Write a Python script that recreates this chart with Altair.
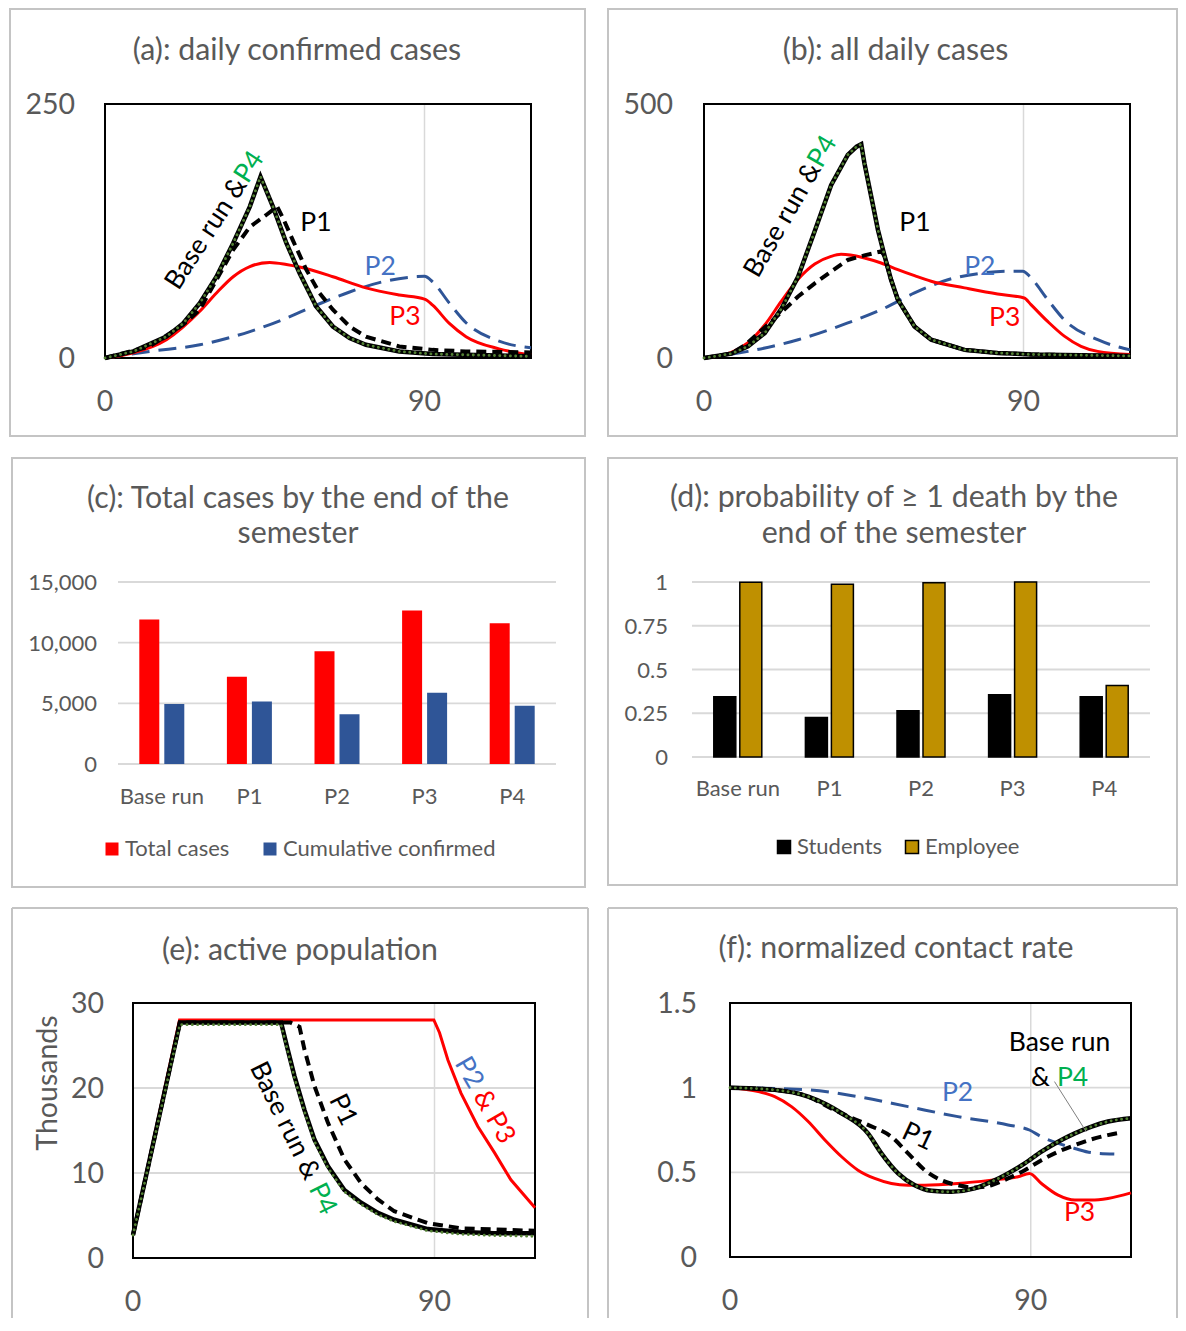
import altair as alt
import pandas as pd

FONT = "Lato"
TXT = "#595959"
BOXC = "#c4c4c4"
GRIDC = "#d9d9d9"
NAVY = "#2f5597"
LBLUE = "#4472c4"
RED = "#ff0000"
DOTG = "#548235"
LGREEN = "#00b050"
GOLD = "#bf9000"

# ================= DATA =================
# (a) daily confirmed cases
A_BASE_DAY = [0, 8, 17.3, 22, 26.7, 31.4, 36.1, 40.8, 43.8, 47.3, 51.1, 54.8, 59.5, 64.2, 68.9, 73.5, 82.9, 92.3, 120]
A_BASE_VAL = [0, 6.5, 21, 34, 54, 80, 113, 149, 178.5, 149, 113, 83.6, 50.7, 31, 19.6, 13, 6.5, 3.9, 1.6]
A_P1_DAY = [0, 12.6, 22, 26.7, 31.4, 36.1, 40.8, 45.5, 48.5, 50.1, 52.9, 56.7, 60.4, 64.2, 68.9, 73.5, 82.9, 92.3, 101.6, 120]
A_P1_VAL = [0, 11.4, 32.7, 47.5, 77, 106.5, 129, 141, 149, 138, 116, 87, 64, 47.5, 31, 21, 11.4, 8, 6.5, 5.5]
A_P2_DAY = [0, 12.6, 26.7, 40.8, 50, 59.5, 68.9, 78.2, 87.6, 90, 92.3, 97, 101.7, 111, 120]
A_P2_VAL = [0, 6.5, 13, 26, 37.7, 52, 65, 75, 80, 80.5, 75, 54, 34.7, 16.6, 10]
A_P3_DAY = [0, 8, 17.3, 26.7, 31.4, 36.1, 40.8, 46.4, 51.1, 54.8, 64.2, 73.5, 82.9, 90, 92.3, 97, 101.7, 111, 120]
A_P3_VAL = [0, 5, 18, 46, 64, 80, 90, 94, 92, 89.5, 80, 69, 62, 58, 52, 34, 21, 9, 3]
A_P4_DAY = A_BASE_DAY
A_P4_VAL = A_BASE_VAL

# (b) all daily cases
B_BASE_DAY = [0, 7.7, 12.4, 17.1, 21.8, 26.5, 31.2, 35.8, 40.5, 43.0, 44.3, 45.2, 47.1, 49, 50.9, 52.7, 54.6, 59.3, 64, 73.4, 82.7, 92.1, 120]
B_BASE_VAL = [0, 8.5, 23, 49, 97, 160, 250, 340, 400, 416, 421, 383, 318, 252, 200, 154, 115, 62, 36, 16, 10, 7, 4]
B_P1_DAY = [0, 7.7, 11.5, 17.1, 21.8, 26.5, 31.2, 35.8, 40.5, 45.2, 50.0, 50.9, 52.7, 54.6, 59.3, 64, 73.4, 82.7, 92.1, 120]
B_P1_VAL = [0, 9, 25, 60, 90, 121, 147, 170, 193, 202, 210, 200, 154, 115, 62, 36, 16, 10, 7, 4]
B_P2_DAY = [0, 12.4, 26.5, 40.5, 49.9, 59.3, 68.7, 78.1, 85.6, 89.8, 92.1, 96.8, 101.5, 110.9, 120]
B_P2_VAL = [0, 13, 36, 69, 95, 128, 154, 167, 171, 171, 158, 115, 75, 36, 16]
B_P3_DAY = [0, 7.7, 12.4, 17.1, 21.8, 26.5, 31.2, 35.8, 38.6, 45.2, 49.9, 54.6, 59.3, 64, 73.4, 82.7, 90.2, 92.1, 96.8, 101.5, 106.2, 110.9, 120]
B_P3_VAL = [0, 11, 30, 65, 112, 155, 185, 200, 204, 197, 187, 174, 162, 151, 138, 126, 118, 105, 72, 43, 23, 13, 7]
B_P4_DAY = B_BASE_DAY
B_P4_VAL = B_BASE_VAL

# (c) total cases by the end of the semester
C_CATS = ["Base run", "P1", "P2", "P3", "P4"]
C_SERIES = ["Total cases", "Cumulative confirmed"]
C_TOTAL = [11900, 7200, 9300, 12650, 11600]
C_CONFIRMED = [4950, 5150, 4100, 5870, 4810]

# (d) probability of >= 1 death
D_CATS = ["Base run", "P1", "P2", "P3", "P4"]
D_SERIES = ["Students", "Employee"]
D_STUDENTS = [0.345, 0.226, 0.264, 0.356, 0.345]
D_EMPLOYEE = [0.999, 0.987, 0.996, 1.0, 0.408]

# (e) active population (thousands)
E_BASE_DAY = [0, 14, 44.2, 46.2, 48.2, 51.2, 54.2, 58.2, 63.1, 68.1, 73.1, 78, 88, 97.9, 107.8, 120]
E_BASE_VAL = [2.7, 27.7, 27.7, 24.5, 21.4, 17.4, 13.9, 10.8, 8.0, 6.5, 5.3, 4.5, 3.4, 3.06, 2.9, 2.9]
E_P4_DAY = E_BASE_DAY
E_P4_VAL = [2.7, 27.45, 27.45, 24.3, 21.2, 17.2, 13.7, 10.6, 7.8, 6.3, 5.1, 4.3, 3.2, 2.8, 2.65, 2.55]
E_P1_DAY = [0, 14, 47, 49.7, 51.2, 54.2, 58.2, 63.1, 68.1, 73.1, 78, 88, 97.9, 120]
E_P1_VAL = [2.7, 27.7, 27.7, 27.2, 24.5, 20.2, 15.9, 11.6, 8.8, 6.9, 5.5, 4.1, 3.5, 3.2]
E_P3_DAY = [0, 13.9, 89.8, 91.5, 94, 97.9, 102.9, 107.9, 112.8, 120]
E_P3_VAL = [2.7, 28.0, 28.0, 26.5, 23.3, 19.4, 15.5, 12.4, 9.2, 5.9]

# (f) normalized contact rate
F_BASE_DAY = [0, 13.4, 23.4, 33.4, 41.3, 45.3, 50.3, 55.3, 60.3, 66.2, 73.2, 78.2, 83.2, 88.2, 93.2, 98.2, 103.2, 108.2, 113.1, 120]
F_BASE_VAL = [1.0, 0.987, 0.947, 0.849, 0.73, 0.612, 0.494, 0.424, 0.391, 0.385, 0.405, 0.444, 0.494, 0.553, 0.622, 0.681, 0.73, 0.77, 0.80, 0.82]
F_P1_DAY = [0, 13.4, 23.4, 30, 34.4, 41.3, 48.3, 53.3, 58.3, 63.2, 68.2, 73.2, 78.2, 83.2, 88.2, 93.2, 98.2, 103.2, 108.2, 113.1, 117]
F_P1_VAL = [1.0, 0.987, 0.947, 0.88, 0.839, 0.78, 0.71, 0.612, 0.513, 0.454, 0.424, 0.41, 0.424, 0.464, 0.513, 0.572, 0.622, 0.661, 0.695, 0.72, 0.735]
F_P2_DAY = [0, 23.4, 38.3, 53.3, 68.2, 83.2, 89.6, 93.2, 98.2, 103.2, 108.2, 115]
F_P2_VAL = [1.0, 0.987, 0.947, 0.888, 0.829, 0.78, 0.75, 0.71, 0.671, 0.641, 0.616, 0.608]
F_P3_DAY = [0, 8.5, 13.4, 18.4, 23.4, 28.4, 33.4, 38.3, 43.3, 48.3, 53.3, 58.3, 68.2, 78.2, 86.2, 89.6, 93.2, 98.2, 103.2, 108.2, 113.1, 120]
F_P3_VAL = [1.0, 0.977, 0.947, 0.888, 0.80, 0.691, 0.592, 0.513, 0.464, 0.434, 0.424, 0.424, 0.434, 0.454, 0.474, 0.493, 0.434, 0.365, 0.336, 0.336, 0.346, 0.379]
F_P4_DAY = F_BASE_DAY
F_P4_VAL = F_BASE_VAL

# tick values / labels
A_YTICKS, A_YLABELS = [0, 250], ["0", "250"]
B_YTICKS, B_YLABELS = [0, 500], ["0", "500"]
C_YTICKS, C_YLABELS = [0, 5000, 10000, 15000], ["0", "5,000", "10,000", "15,000"]
D_YTICKS, D_YLABELS = [0, 0.25, 0.5, 0.75, 1], ["0", "0.25", "0.5", "0.75", "1"]
E_YTICKS, E_YLABELS = [0, 10, 20, 30], ["0", "10", "20", "30"]
F_YTICKS, F_YLABELS = [0, 0.5, 1, 1.5], ["0", "0.5", "1", "1.5"]
X_TICKS, X_LABELS = [0, 90], ["0", "90"]

# ================= LAYOUT (page pixels) =================
OFF = 8
W, H = 1170, 1310
RMAX = OFF + W - 1
PANEL = {
    "a": dict(x0=105, x1=531, yb=358, yt=104, ydom=[0, 250], box=(10, 9, 585, 436),
              title=[("(a): daily confirmed cases", 297, 49)], ylab_x=75, xlab_y=400),
    "b": dict(x0=704, x1=1130, yb=358, yt=104, ydom=[0, 500], box=(608, 9, RMAX, 436),
              title=[("(b): all daily cases", 895.5, 49)], ylab_x=673, xlab_y=400),
    "c": dict(x0=118, x1=556, yb=764, yt=582, ydom=[0, 15000], box=(12, 458, 585, 887),
              title=[("(c): Total cases by the end of the", 298, 497), ("semester", 298, 532)],
              ylab_x=97, xlab_y=796),
    "d": dict(x0=692, x1=1150, yb=757, yt=582, ydom=[0, 1], box=(608, 458, RMAX, 885),
              title=[("(d): probability of \u2265 1 death by the", 894, 496),
                     ("end of the semester", 894, 532)],
              ylab_x=668, xlab_y=788),
    "e": dict(x0=133, x1=535, yb=1258, yt=1003, ydom=[0, 30], box=(12, 908, 588, None),
              title=[("(e): active population", 300, 949)], ylab_x=104, xlab_y=1300),
    "f": dict(x0=730, x1=1131, yb=1257, yt=1003, ydom=[0, 1.5], box=(608, 908, RMAX, None),
              title=[("(f): normalized contact rate", 896, 947)], ylab_x=697, xlab_y=1299),
}

STYLE = {
    "P2": dict(color=NAVY, strokeWidth=3, strokeDash=[18, 9]),
    "P3": dict(color=RED, strokeWidth=3),
    "P1": dict(color="black", strokeWidth=4, strokeDash=[10, 6]),
    "Base run": dict(color="black", strokeWidth=4.5),
    "P4": dict(color=DOTG, strokeWidth=2.8, strokeDash=[0.1, 5.2], strokeCap="round"),
}
DRAW_ORDER = ["P2", "P3", "P1", "Base run", "P4"]

TITLE_SIZE = 30.3
BIG = 28.5
ANN = 26.5
SMALL = 22

ONE = pd.DataFrame({"k": [0]})
layers = []


def v(p):
    return p - OFF


def xscale(p):
    return alt.Scale(domain=[0, 120], range=[v(p["x0"]), v(p["x1"])], nice=False, zero=False)


def yscale(p):
    return alt.Scale(domain=p["ydom"], range=[v(p["yb"]), v(p["yt"])], nice=False, zero=False)


def bandscale(p, cats):
    return alt.Scale(domain=cats, range=[v(p["x0"]), v(p["x1"])], paddingInner=0.5,
                     paddingOuter=0.25)


def add_box(p):
    x1, y1, x2, y2 = p["box"]
    if y2 is not None:
        layers.append(alt.Chart(ONE).mark_rect(fill="transparent", stroke=BOXC, strokeWidth=2)
                      .encode(x=alt.value(v(x1)), x2=alt.value(v(x2)),
                              y=alt.value(v(y1)), y2=alt.value(v(y2))))
    else:
        yb = OFF + H
        for a, b, c, d in [(x1, x2, y1, y1), (x1, x1, y1, yb), (x2, x2, y1, yb)]:
            layers.append(alt.Chart(ONE).mark_rule(color=BOXC, strokeWidth=2)
                          .encode(x=alt.value(v(a)), x2=alt.value(v(b)),
                                  y=alt.value(v(c)), y2=alt.value(v(d))))
    for txt, cx, cy in p["title"]:
        layers.append(alt.Chart(ONE).mark_text(text=txt, font=FONT, fontSize=TITLE_SIZE,
                                               color=TXT, align="center", baseline="middle", dy=2)
                      .encode(x=alt.value(v(cx)), y=alt.value(v(cy))))


def add_ygrid_and_labels(p, ticks, labels, grid_ticks, size):
    df = pd.DataFrame({"t": ticks, "lab": labels})
    if grid_ticks:
        gdf = pd.DataFrame({"t": grid_ticks})
        layers.append(alt.Chart(gdf).mark_rule(color=GRIDC, strokeWidth=1.8)
                      .encode(y=alt.Y("t:Q", scale=yscale(p), axis=None),
                              x=alt.value(v(p["x0"])), x2=alt.value(v(p["x1"]))))
    layers.append(alt.Chart(df).mark_text(font=FONT, fontSize=size, color=TXT, align="right",
                                          baseline="middle", dy=1)
                  .encode(y=alt.Y("t:Q", scale=yscale(p), axis=None),
                          x=alt.value(v(p["ylab_x"])), text="lab:N"))


def line_panel(key, series, yticks, ylabels, ygrid, annots, linear=(), extra=()):
    p = PANEL[key]
    add_box(p)
    layers.append(alt.Chart(pd.DataFrame({"t": [90]})).mark_rule(color=GRIDC, strokeWidth=1.5)
                  .encode(x=alt.X("t:Q", scale=xscale(p), axis=None),
                          y=alt.value(v(p["yt"])), y2=alt.value(v(p["yb"]))))
    add_ygrid_and_labels(p, yticks, ylabels, ygrid, BIG)
    layers.append(alt.Chart(pd.DataFrame({"t": X_TICKS, "lab": X_LABELS}))
                  .mark_text(font=FONT, fontSize=BIG, color=TXT, align="center",
                             baseline="middle", dy=2)
                  .encode(x=alt.X("t:Q", scale=xscale(p), axis=None),
                          y=alt.value(v(p["xlab_y"])), text="lab:N"))
    layers.append(alt.Chart(ONE).mark_rect(fill="transparent", stroke="black", strokeWidth=2)
                  .encode(x=alt.value(v(p["x0"])), x2=alt.value(v(p["x1"])),
                          y=alt.value(v(p["yt"])), y2=alt.value(v(p["yb"]))))
    for name in DRAW_ORDER:
        if name not in series:
            continue
        days, vals = series[name]
        df = pd.DataFrame({"day": days, "val": vals})
        interp = "linear" if name in linear else "monotone"
        layers.append(alt.Chart(df).mark_line(interpolate=interp, **STYLE[name])
                      .encode(x=alt.X("day:Q", scale=xscale(p), axis=None),
                              y=alt.Y("val:Q", scale=yscale(p), axis=None)))
    for e in extra:
        e(p)
    for (txt, d, val, col, ang, align) in annots:
        adf = pd.DataFrame({"day": [d], "val": [val], "txt": [txt]})
        layers.append(alt.Chart(adf).mark_text(font=FONT, fontSize=ANN, color=col, angle=ang,
                                               align=align, baseline="middle")
                      .encode(x=alt.X("day:Q", scale=xscale(p), axis=None),
                              y=alt.Y("val:Q", scale=yscale(p), axis=None), text="txt:N"))


def bar_panel(key, cats, snames, svals, colors, yticks, ylabels, bw, off, legends, stroke=None):
    p = PANEL[key]
    add_box(p)
    add_ygrid_and_labels(p, yticks, ylabels, yticks, SMALL)
    layers.append(alt.Chart(pd.DataFrame({"cat": cats}))
                  .mark_text(font=FONT, fontSize=SMALL, color=TXT, align="center",
                             baseline="middle", dy=1)
                  .encode(x=alt.X("cat:N", scale=bandscale(p, cats), axis=None),
                          y=alt.value(v(p["xlab_y"])), text="cat:N"))
    for i, (s, vals, c, (lx, ly)) in enumerate(zip(snames, svals, colors, legends)):
        df = pd.DataFrame({"cat": cats, "val": vals, "series": [s] * len(cats)})
        mk = dict(width=bw, xOffset=(-off if i == 0 else off))
        lg = dict(orient="none", legendX=v(lx), legendY=v(ly), title=None, symbolType="square",
                  symbolSize=169, labelFont=FONT, labelFontSize=SMALL, labelColor=TXT,
                  labelOffset=2, padding=0, labelLimit=400)
        if stroke:
            mk.update(stroke=stroke, strokeWidth=1.5)
            lg.update(symbolStrokeColor=stroke, symbolStrokeWidth=1.5)
        else:
            lg.update(symbolStrokeWidth=0)
        layers.append(alt.Chart(df).mark_bar(**mk).encode(
            x=alt.X("cat:N", scale=bandscale(p, cats), axis=None),
            y=alt.Y("val:Q", scale=yscale(p), axis=None),
            color=alt.Color("series:N", scale=alt.Scale(domain=[s], range=[c]),
                            legend=alt.Legend(**lg))))


# ================= BUILD =================
line_panel("a",
           {"Base run": (A_BASE_DAY, A_BASE_VAL), "P4": (A_P4_DAY, A_P4_VAL),
            "P1": (A_P1_DAY, A_P1_VAL), "P2": (A_P2_DAY, A_P2_VAL), "P3": (A_P3_DAY, A_P3_VAL)},
           A_YTICKS, A_YLABELS, None,
           [("Base run &", 38.3, 175, "black", 303, "right"),
            ("P4", 38.3, 175, LGREEN, 303, "left"),
            ("P1", 59.4, 133, "black", 0, "center"),
            ("P2", 77.5, 89.6, LBLUE, 0, "center"),
            ("P3", 84.5, 40, RED, 0, "center")],
           linear=("Base run", "P4", "P1"))

line_panel("b",
           {"Base run": (B_BASE_DAY, B_BASE_VAL), "P4": (B_P4_DAY, B_P4_VAL),
            "P1": (B_P1_DAY, B_P1_VAL), "P2": (B_P2_DAY, B_P2_VAL), "P3": (B_P3_DAY, B_P3_VAL)},
           B_YTICKS, B_YLABELS, None,
           [("Base run &", 31.2, 380, "black", 300, "right"),
            ("P4", 31.2, 380, LGREEN, 300, "left"),
            ("P1", 59.4, 266, "black", 0, "center"),
            ("P2", 77.7, 180, LBLUE, 0, "center"),
            ("P3", 84.7, 79, RED, 0, "center")],
           linear=("Base run", "P4", "P1"))

bar_panel("c", C_CATS, C_SERIES, [C_TOTAL, C_CONFIRMED], [RED, NAVY],
          C_YTICKS, C_YLABELS, 20, 12.5, [(101, 838), (259, 838)])

bar_panel("d", D_CATS, D_SERIES, [D_STUDENTS, D_EMPLOYEE], ["#000000", GOLD],
          D_YTICKS, D_YLABELS, 22, 13, [(773, 836), (901, 836)], stroke="black")

line_panel("e",
           {"Base run": (E_BASE_DAY, E_BASE_VAL), "P4": (E_P4_DAY, E_P4_VAL),
            "P1": (E_P1_DAY, E_P1_VAL), "P3": (E_P3_DAY, E_P3_VAL)},
           E_YTICKS, E_YLABELS, [10, 20],
           [("Base run &", 53.6, 9.4, "black", 64, "right"),
            ("P4", 54.5, 8.6, LGREEN, 64, "left"),
            ("P1", 62.6, 17.4, "black", 64, "center"),
            ("P2", 102.6, 20.2, LBLUE, 60, "right"),
            ("& P3", 103.5, 19.5, RED, 60, "left")],
           linear=("Base run", "P4", "P1", "P3"))
layers.append(alt.Chart(ONE).mark_text(text="Thousands", font=FONT, fontSize=BIG, color=TXT,
                                       angle=270, align="center", baseline="middle")
              .encode(x=alt.value(v(48)), y=alt.value(v(1083))))


def leader(p):
    ldf = pd.DataFrame({"day": [97.1], "val": [1.036], "day2": [106.6], "val2": [0.74]})
    layers.append(alt.Chart(ldf).mark_rule(color="#808080", strokeWidth=1).encode(
        x=alt.X("day:Q", scale=xscale(p), axis=None), y=alt.Y("val:Q", scale=yscale(p), axis=None),
        x2="day2:Q", y2="val2:Q"))


line_panel("f",
           {"Base run": (F_BASE_DAY, F_BASE_VAL), "P4": (F_P4_DAY, F_P4_VAL),
            "P1": (F_P1_DAY, F_P1_VAL), "P2": (F_P2_DAY, F_P2_VAL), "P3": (F_P3_DAY, F_P3_VAL)},
           F_YTICKS, F_YLABELS, [0.5, 1],
           [("Base run", 98.6, 1.265, "black", 0, "center"),
            ("&", 92.9, 1.058, "black", 0, "center"),
            ("P4", 102.5, 1.058, LGREEN, 0, "center"),
            ("P2", 68.1, 0.969, LBLUE, 0, "center"),
            ("P1", 56.2, 0.709, "black", 25, "center"),
            ("P3", 104.6, 0.259, RED, 0, "center")],
           extra=(leader,))

chart = alt.layer(*layers).resolve_scale(
    x="independent", y="independent", color="independent"
).properties(width=W, height=H, padding=0, autosize="none").configure_view(strokeWidth=0)

chart.save("out.html", embed_options={"renderer": "svg", "actions": False})
